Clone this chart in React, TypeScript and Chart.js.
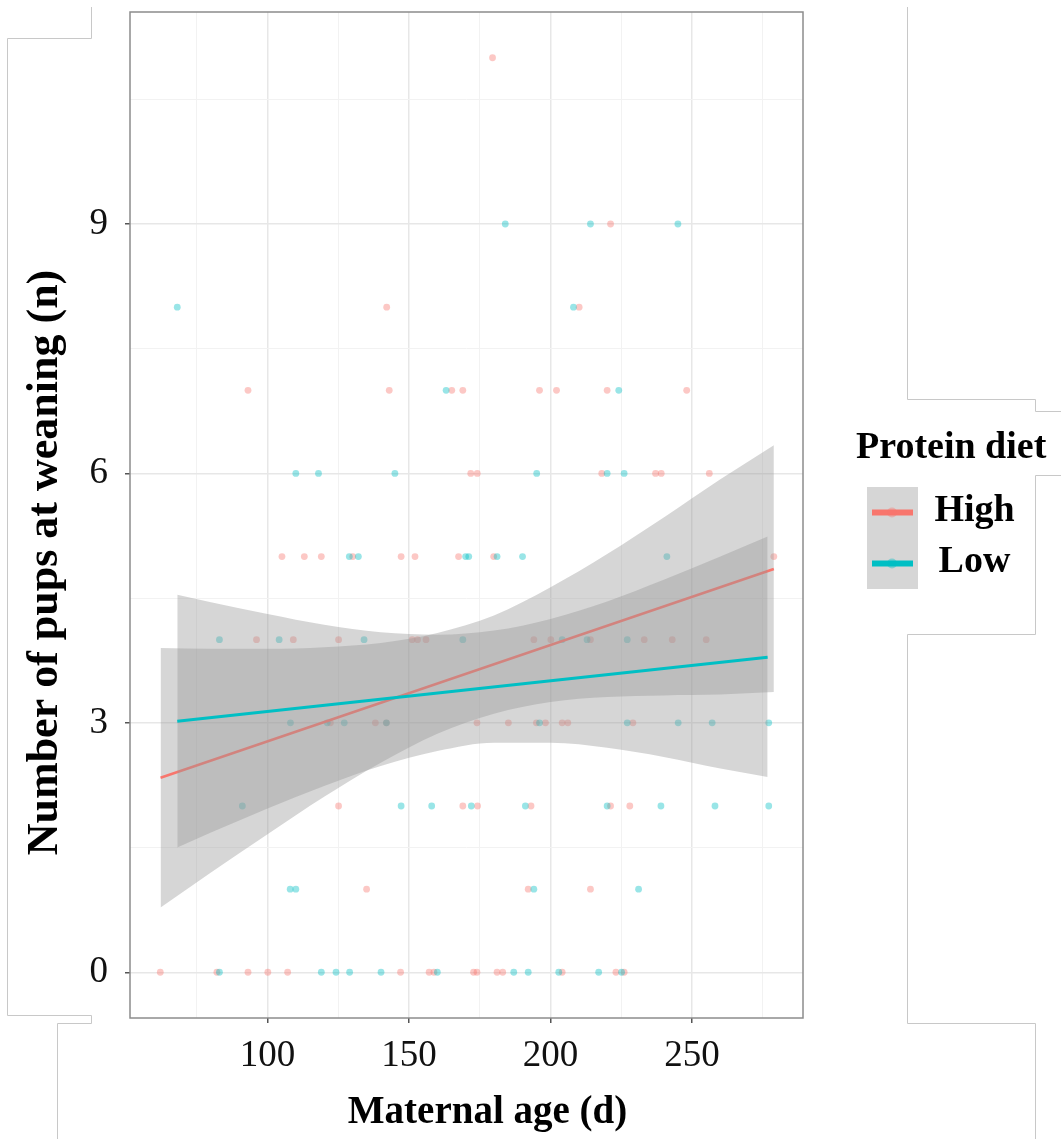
import React, { useEffect, useRef } from 'react';
import { Chart, registerables } from 'chart.js';

Chart.register(...registerables);

// ---- Data ----
const highAge = [
  179.5,
  221.2,
  142.1, 210.1,
  93.1, 143.0, 165.1, 169.0, 196.1, 202.1, 220.0, 248.1,
  171.8, 174.1, 218.1, 237.1, 239.1, 256.1,
  105.1, 113.0, 119.0, 130.1, 147.2, 152.1, 167.5, 179.9, 278.9,
  96.1, 109.1, 125.1, 151.1, 153.0, 156.0, 194.1, 200.1, 214.1, 233.1, 243.0, 255.0,
  122.2, 138.1, 142.0, 174.0, 185.1, 195.0, 198.2, 204.1, 206.1, 229.1,
  125.1, 169.0, 174.2, 193.1, 221.2, 228.0,
  135.0, 192.1, 214.1,
  62.1, 82.1, 93.1, 100.1, 107.1, 147.0, 157.1, 158.8, 172.8, 174.0, 181.1, 183.1, 204.1, 223.1, 226.0,
];
const highPups = [
  11,
  9,
  8, 8,
  7, 7, 7, 7, 7, 7, 7, 7,
  6, 6, 6, 6, 6, 6,
  5, 5, 5, 5, 5, 5, 5, 5, 5,
  4, 4, 4, 4, 4, 4, 4, 4, 4, 4, 4, 4,
  3, 3, 3, 3, 3, 3, 3, 3, 3, 3,
  2, 2, 2, 2, 2, 2,
  1, 1, 1,
  0, 0, 0, 0, 0, 0, 0, 0, 0, 0, 0, 0, 0, 0, 0,
];

const lowAge = [
  184.0, 214.1, 245.0,
  68.1, 208.1,
  163.1, 224.1,
  110.0, 118.0, 145.0, 195.1, 220.0, 226.0,
  128.9, 132.1, 170.0, 171.1, 181.1, 190.1, 241.1,
  83.0, 104.1, 134.1, 169.0, 204.1, 212.9, 227.1,
  108.1, 121.1, 127.1, 142.0, 196.1, 227.1, 245.1, 257.1, 277.1,
  91.1, 147.2, 158.0, 172.0, 191.1, 220.0, 239.0, 258.1, 277.1,
  108.0, 110.0, 194.1, 231.1,
  83.0, 119.0, 124.2, 129.0, 140.1, 160.0, 187.0, 192.1, 202.9, 217.0, 225.1,
];
const lowPups = [
  9, 9, 9,
  8, 8,
  7, 7,
  6, 6, 6, 6, 6, 6,
  5, 5, 5, 5, 5, 5, 5,
  4, 4, 4, 4, 4, 4, 4,
  3, 3, 3, 3, 3, 3, 3, 3, 3,
  2, 2, 2, 2, 2, 2, 2, 2, 2,
  1, 1, 1, 1,
  0, 0, 0, 0, 0, 0, 0, 0, 0, 0, 0,
];

// Fitted lines (endpoints)
const highFitAge = [62.2, 278.9];
const highFitPups = [2.34, 4.85];
const lowFitAge = [68.1, 276.7];
const lowFitPups = [3.02, 3.79];

// Confidence bands
const highBandAge = [62.2, 80, 100, 120, 140, 160, 180, 200, 220, 240, 260, 278.9];
const highBandLower = [0.78, 1.2, 1.66, 2.11, 2.52, 2.87, 3.11, 3.25, 3.31, 3.33, 3.34, 3.37];
const highBandUpper = [3.9, 3.89, 3.89, 3.91, 3.96, 4.08, 4.29, 4.63, 5.03, 5.47, 5.93, 6.34];
const lowBandAge = [68.1, 80, 100, 120, 140, 160, 180, 200, 220, 240, 260, 276.7];
const lowBandLower = [1.5, 1.68, 1.97, 2.24, 2.48, 2.66, 2.76, 2.76, 2.7, 2.59, 2.45, 2.35];
const lowBandUpper = [4.54, 4.45, 4.31, 4.18, 4.09, 4.06, 4.11, 4.25, 4.46, 4.72, 5.0, 5.24];

// Axes
const xTicks = [75, 100, 125, 150, 175, 200, 225, 250, 275];
const xMajor = [100, 150, 200, 250];
const yTicks = [0, 1.5, 3, 4.5, 6, 7.5, 9, 10.5];
const yMajor = [0, 3, 6, 9];
const xRange = [51.4, 289.2];
const yRange = [-0.55, 11.55];

const seriesNames = ['High', 'Low'];
const legendTitle = 'Protein diet';
const xTitle = 'Maternal age (d)';
const yTitle = 'Number of pups at weaning (n)';

const RED = '#F8766D';
const TEAL = '#00BFC4';
const RED_A = 'rgba(248,118,109,0.4)';
const TEAL_A = 'rgba(0,191,196,0.4)';
const BAND = 'rgba(153,153,153,0.4)';
const SERIF = '"Liberation Serif", "Times New Roman", serif';

const pts = (xs: number[], ys: number[]) => xs.map((x, i) => ({ x, y: ys[i] }));

const decorPlugin = {
  id: 'decor',
  beforeDraw(chart: any) {
    const ctx = chart.ctx;
    ctx.save();
    ctx.fillStyle = '#ffffff';
    ctx.fillRect(0, 0, chart.width, chart.height);
    ctx.restore();
  },
  afterDraw(chart: any) {
    const ctx = chart.ctx;
    const { left, right, top, bottom } = chart.chartArea;
    ctx.save();
    // panel border
    ctx.strokeStyle = '#8c8c8c';
    ctx.lineWidth = 1.5;
    ctx.strokeRect(left, top, right - left, bottom - top);

    // axis titles
    ctx.fillStyle = '#000';
    ctx.textAlign = 'center';
    ctx.textBaseline = 'alphabetic';
    ctx.font = `bold 39px ${SERIF}`;
    ctx.fillText(xTitle, 487.5, 1123);
    ctx.save();
    ctx.translate(57, 562.5);
    ctx.rotate(-Math.PI / 2);
    ctx.font = `bold 44px ${SERIF}`;
    ctx.fillText(yTitle, 0, 0);
    ctx.restore();

    // legend
    ctx.textAlign = 'left';
    ctx.font = `bold 38px ${SERIF}`;
    ctx.fillText(legendTitle, 856, 458);
    const keyColors = [RED, TEAL];
    const keyAlpha = [RED_A, TEAL_A];
    seriesNames.forEach((name, i) => {
      const ky = 487 + i * 51;
      ctx.fillStyle = '#d6d6d6';
      ctx.fillRect(867, ky, 51, 51);
      const cy = ky + 25.5;
      ctx.strokeStyle = keyColors[i];
      ctx.lineWidth = 6;
      ctx.beginPath();
      ctx.moveTo(872, cy);
      ctx.lineTo(913, cy);
      ctx.stroke();
      ctx.fillStyle = keyAlpha[i];
      ctx.beginPath();
      ctx.arc(892, cy, 5, 0, Math.PI * 2);
      ctx.fill();
      ctx.fillStyle = '#000';
      ctx.textAlign = 'center';
      ctx.fillText(name, 974.5, cy + 8.5);
      ctx.textAlign = 'left';
    });

    // light frame lines of the source figure
    ctx.strokeStyle = '#c8c8c8';
    ctx.lineWidth = 1;
    const frames = [
      [[91.5, 7], [91.5, 38.5], [7.5, 38.5], [7.5, 1015.5], [91.5, 1015.5], [91.5, 1023.5], [57.5, 1023.5], [57.5, 1139]],
      [[907.5, 7], [907.5, 399.5], [1035.5, 399.5], [1035.5, 411.5], [1061, 411.5]],
      [[1061, 475.5], [1035.5, 475.5], [1035.5, 634.5], [907.5, 634.5], [907.5, 1023.5], [1035.5, 1023.5], [1035.5, 1139]],
    ];
    frames.forEach((f) => {
      ctx.beginPath();
      f.forEach(([x, y], j) => (j === 0 ? ctx.moveTo(x, y) : ctx.lineTo(x, y)));
      ctx.stroke();
    });
    ctx.restore();
  },
};

export default function App() {
  const ref = useRef<HTMLCanvasElement | null>(null);

  useEffect(() => {
    if (!ref.current) return;
    const bandLine = { type: 'line', borderWidth: 0, pointRadius: 0, cubicInterpolationMode: 'monotone' };
    const chart = new Chart(ref.current, {
      type: 'scatter',
      data: {
        datasets: [
          { label: 'High', data: pts(highAge, highPups), backgroundColor: RED_A, borderWidth: 0, pointRadius: 3.4, order: 6 },
          { label: 'Low', data: pts(lowAge, lowPups), backgroundColor: TEAL_A, borderWidth: 0, pointRadius: 3.4, order: 5 },
          { ...bandLine, data: pts(highBandAge, highBandUpper), fill: '+1', backgroundColor: BAND, order: 4 },
          { ...bandLine, data: pts(highBandAge, highBandLower), fill: false, order: 4 },
          { type: 'line', data: pts(highFitAge, highFitPups), borderColor: RED, borderWidth: 2.5, pointRadius: 0, fill: false, order: 3 },
          { ...bandLine, data: pts(lowBandAge, lowBandUpper), fill: '+1', backgroundColor: BAND, order: 2 },
          { ...bandLine, data: pts(lowBandAge, lowBandLower), fill: false, order: 2 },
          { type: 'line', data: pts(lowFitAge, lowFitPups), borderColor: TEAL, borderWidth: 3, pointRadius: 0, fill: false, order: 1 },
        ] as any,
      },
      options: {
        animation: false,
        responsive: false,
        devicePixelRatio: 1,
        layout: { padding: { top: 12, right: 258, bottom: 0, left: 0 } },
        plugins: { legend: { display: false }, tooltip: { enabled: false }, title: { display: false } },
        scales: {
          x: {
            type: 'linear',
            min: xRange[0],
            max: xRange[1],
            afterBuildTicks: (s: any) => { s.ticks = xTicks.map((v) => ({ value: v })); },
            afterFit: (s: any) => { s.height = 121; s.paddingLeft = 0; s.paddingRight = 0; },
            ticks: {
              callback: (v: any) => (xMajor.includes(Number(v)) ? String(v) : ''),
              font: { family: SERIF, size: 37 },
              color: '#111',
              padding: 11,
              maxRotation: 0,
              autoSkip: false,
            },
            grid: {
              color: (c: any) => (xMajor.includes(c.tick?.value) ? '#e7e7e7' : '#f2f2f2'),
              lineWidth: (c: any) => (xMajor.includes(c.tick?.value) ? 1.5 : 1),
              tickColor: (c: any) => (xMajor.includes(c.tick?.value) ? '#555' : 'rgba(0,0,0,0)'),
              tickWidth: 1.5,
              tickLength: 5,
              drawTicks: true,
            },
            border: { display: false },
          },
          y: {
            type: 'linear',
            min: yRange[0],
            max: yRange[1],
            afterBuildTicks: (s: any) => { s.ticks = yTicks.map((v) => ({ value: v })); },
            afterFit: (s: any) => { s.width = 130; s.paddingTop = 0; s.paddingBottom = 0; },
            ticks: {
              callback: (v: any) => (yMajor.includes(Number(v)) ? String(v) : ''),
              font: { family: SERIF, size: 37 },
              color: '#111',
              padding: 17,
              autoSkip: false,
            },
            grid: {
              color: (c: any) => (yMajor.includes(c.tick?.value) ? '#e7e7e7' : '#f2f2f2'),
              lineWidth: (c: any) => (yMajor.includes(c.tick?.value) ? 1.5 : 1),
              tickColor: (c: any) => (yMajor.includes(c.tick?.value) ? '#555' : 'rgba(0,0,0,0)'),
              tickWidth: 1.5,
              tickLength: 5,
              drawTicks: true,
            },
            border: { display: false },
          },
        },
      } as any,
      plugins: [decorPlugin],
    });
    return () => chart.destroy();
  }, []);

  return (
    <div style={{ position: 'fixed', left: 0, top: 0, width: 1061, height: 1139, background: '#fff' }}>
      <canvas ref={ref} width={1061} height={1139} style={{ display: 'block', width: 1061, height: 1139 }} />
    </div>
  );
}
